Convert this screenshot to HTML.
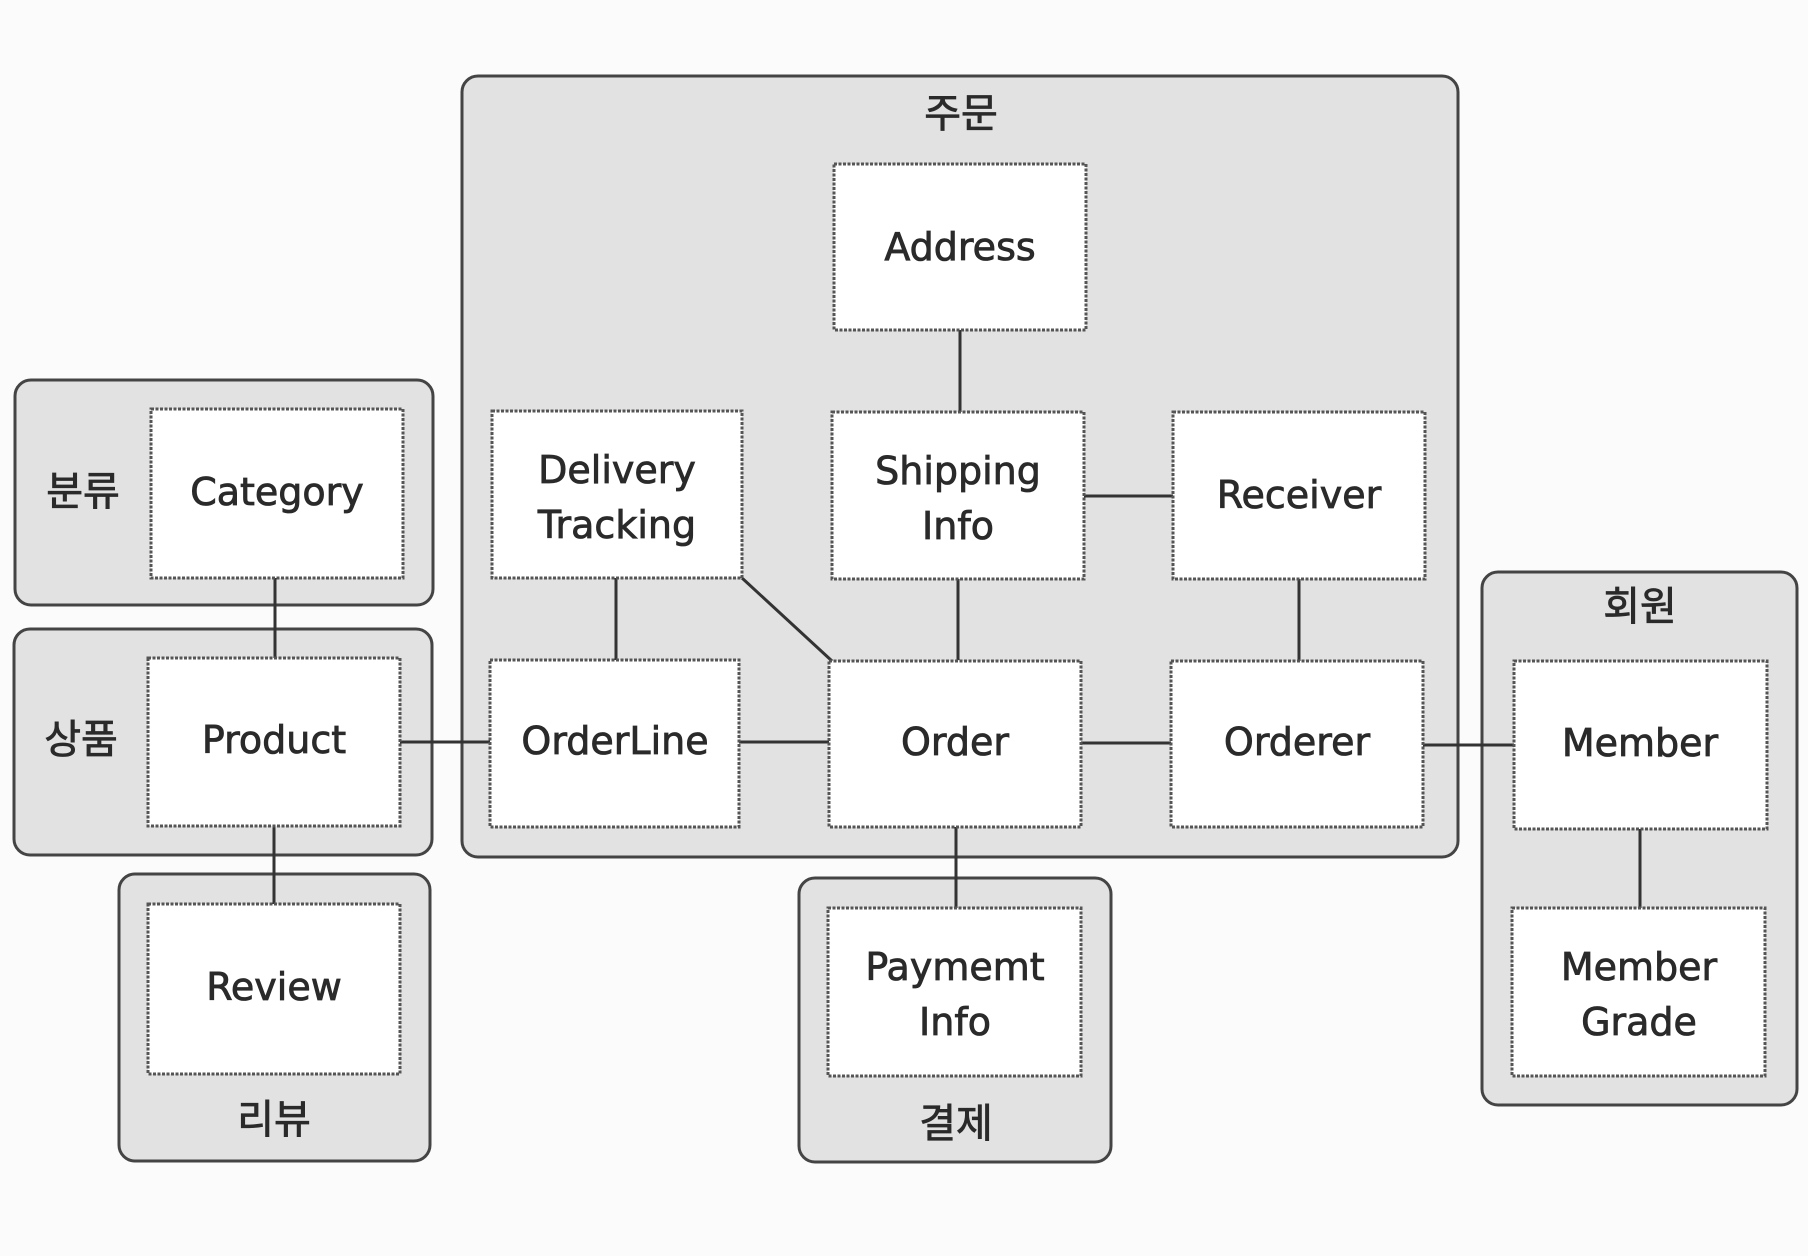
<!DOCTYPE html>
<html><head><meta charset="utf-8"><style>
html,body{margin:0;padding:0;background:#fbfbfb;}
svg{display:block}
text{font-family:"DejaVu Sans","Liberation Sans","Noto Sans CJK KR",sans-serif;fill:#2a2a2a;stroke:#2a2a2a;stroke-width:0.8;text-anchor:middle;}
.g{fill:#e2e2e2;stroke:#444;stroke-width:3}
.b{fill:#fff;stroke:#555;stroke-width:3;stroke-dasharray:3 1.5}
.l{stroke:#333;stroke-width:3;fill:none}
.t{font-size:38px}
.k{font-size:40px;font-family:"Noto Sans CJK KR","NanumGothic",sans-serif}
</style></head><body>
<svg width="1808" height="1256" viewBox="0 0 1808 1256">
<rect class="g" x="462" y="76" width="996" height="781" rx="16"/>
<rect class="g" x="15" y="380" width="418" height="225" rx="16"/>
<rect class="g" x="14" y="629" width="418" height="226" rx="16"/>
<rect class="g" x="119" y="874" width="311" height="287" rx="16"/>
<rect class="g" x="799" y="878" width="312" height="284" rx="16"/>
<rect class="g" x="1482" y="572" width="315" height="533" rx="16"/>
<line class="l" x1="275" y1="578" x2="275" y2="658"/>
<line class="l" x1="274" y1="826" x2="274" y2="904"/>
<line class="l" x1="400" y1="742" x2="490" y2="742"/>
<line class="l" x1="739" y1="742" x2="829" y2="742"/>
<line class="l" x1="1081" y1="743" x2="1171" y2="743"/>
<line class="l" x1="1423" y1="745" x2="1514" y2="745"/>
<line class="l" x1="1640" y1="829" x2="1640" y2="908"/>
<line class="l" x1="960" y1="330" x2="960" y2="412"/>
<line class="l" x1="616" y1="578" x2="616" y2="660"/>
<line class="l" x1="958" y1="579" x2="958" y2="660"/>
<line class="l" x1="1084" y1="496" x2="1173" y2="496"/>
<line class="l" x1="1299" y1="579" x2="1299" y2="661"/>
<line class="l" x1="956" y1="827" x2="956" y2="908"/>
<line class="l" x1="742" y1="578" x2="832" y2="661"/>
<rect class="b" x="834" y="164" width="252" height="166"/>
<rect class="b" x="492" y="411" width="250" height="167"/>
<rect class="b" x="832" y="412" width="252" height="167"/>
<rect class="b" x="1173" y="412" width="252" height="167"/>
<rect class="b" x="490" y="660" width="249" height="167"/>
<rect class="b" x="829" y="661" width="252" height="166"/>
<rect class="b" x="1171" y="661" width="252" height="166"/>
<rect class="b" x="151" y="409" width="252" height="169"/>
<rect class="b" x="148" y="658" width="252" height="168"/>
<rect class="b" x="148" y="904" width="252" height="170"/>
<rect class="b" x="828" y="908" width="253" height="168"/>
<rect class="b" x="1514" y="661" width="253" height="168"/>
<rect class="b" x="1512" y="908" width="253" height="168"/>
<text class="t" x="960" y="260">Address</text>
<text class="t" x="617" y="483">Delivery</text>
<text class="t" x="617" y="538">Tracking</text>
<text class="t" x="958" y="484">Shipping</text>
<text class="t" x="958" y="539">Info</text>
<text class="t" x="1299" y="508">Receiver</text>
<text class="t" x="615" y="754">OrderLine</text>
<text class="t" x="955" y="755">Order</text>
<text class="t" x="1297" y="755">Orderer</text>
<text class="t" x="277" y="505">Category</text>
<text class="t" x="274" y="753">Product</text>
<text class="t" x="274" y="1000">Review</text>
<text class="t" x="955" y="980">Paymemt</text>
<text class="t" x="955" y="1035">Info</text>
<text class="t" x="1640" y="756">Member</text>
<text class="t" x="1639" y="980">Member</text>
<text class="t" x="1639" y="1035">Grade</text>
<text class="k" x="961" y="127">주문</text>
<text class="k" x="83" y="505">분류</text>
<text class="k" x="81" y="753">상품</text>
<text class="k" x="274" y="1133">리뷰</text>
<text class="k" x="956" y="1137">결제</text>
<text class="k" x="1640" y="620">회원</text>
</svg>
</body></html>
